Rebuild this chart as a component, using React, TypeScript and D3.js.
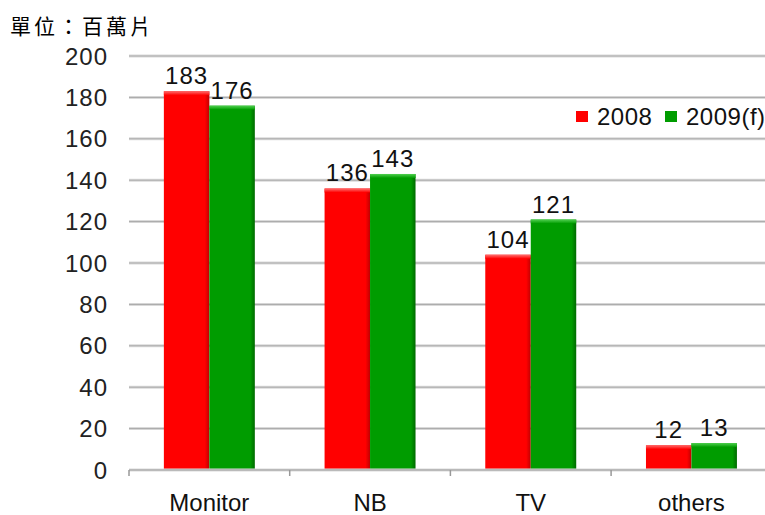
import React from "react";
import * as d3 from "d3";

const categories = ["Monitor", "NB", "TV", "others"];
const seriesNames = ["2008", "2009(f)"];
const values2008 = [183, 136, 104, 12];
const values2009 = [176, 143, 121, 13];
const yTicks = [0, 20, 40, 60, 80, 100, 120, 140, 160, 180, 200];
const unitLabel = "單位：百萬片";

const W = 765;
const H = 515;

export default function App() {
  const left = 129;
  const bandW = 160.7;
  const x0 = d3
    .scaleBand<string>()
    .domain(categories)
    .range([left, left + bandW * categories.length])
    .paddingInner(0)
    .paddingOuter(0);
  const bw = x0.bandwidth();
  const groupW = bw * 0.566;
  const x1 = d3
    .scaleBand<string>()
    .domain(seriesNames)
    .range([(bw - groupW) / 2, (bw + groupW) / 2])
    .padding(0);
  const y = d3.scaleLinear().domain([0, 200]).range([470, 56]);

  const series = [
    { name: seriesNames[0], vals: values2008, grad: "gRed", topGrad: "gRedTop", fill: "#ff0000" },
    { name: seriesNames[1], vals: values2009, grad: "gGreen", topGrad: "gGreenTop", fill: "#009c00" },
  ];

  const font = "'Liberation Sans', Arial, sans-serif";
  const fs = 24;
  const ls = 1;

  return (
    <div style={{ position: "fixed", left: 0, top: 0, width: W, height: H, background: "#fff" }}>
      <svg width={W} height={H} style={{ display: "block" }}>
        <defs>
          <linearGradient id="gRed" x1="0" x2="1" y1="0" y2="0">
            <stop offset="0" stopColor="#ff0000" />
            <stop offset="0.9" stopColor="#ff0000" />
            <stop offset="1" stopColor="#c00000" />
          </linearGradient>
          <linearGradient id="gGreen" x1="0" x2="1" y1="0" y2="0">
            <stop offset="0" stopColor="#009c00" />
            <stop offset="0.9" stopColor="#009c00" />
            <stop offset="1" stopColor="#006a00" />
          </linearGradient>
          <linearGradient id="gRedTop" x1="0" x2="0" y1="0" y2="1">
            <stop offset="0" stopColor="#ff7070" />
            <stop offset="1" stopColor="#ff0000" />
          </linearGradient>
          <linearGradient id="gGreenTop" x1="0" x2="0" y1="0" y2="1">
            <stop offset="0" stopColor="#50d050" />
            <stop offset="1" stopColor="#009c00" />
          </linearGradient>
        </defs>

        <text x={10} y={34} fontFamily="'Noto Sans CJK TC', sans-serif" fontSize={21} letterSpacing={3} fill="#000">
          {unitLabel}
        </text>

        {/* gridlines */}
        {yTicks.filter((t) => t > 0).map((t) => (
          <g key={"g" + t}>
            <line x1={left} x2={W} y1={y(t)} y2={y(t)} stroke="#dadada" strokeWidth={3} />
            <line x1={left} x2={W} y1={y(t)} y2={y(t)} stroke="#a8a8a8" strokeWidth={1} />
          </g>
        ))}

        {/* y labels */}
        {yTicks.map((t) => (
          <text key={"t" + t} x={108} y={y(t) + 8.5} textAnchor="end" fontFamily={font} fontSize={fs} letterSpacing={ls} fill="#222">
            {t}
          </text>
        ))}

        {/* bars */}
        {categories.map((c, i) => (
          <g key={c} transform={`translate(${x0(c)},0)`}>
            {series.map((s) => {
              const bx = x1(s.name)!;
              const w = x1.bandwidth();
              const top = y(s.vals[i]);
              const h = y(0) - top;
              return (
                <g key={s.name}>
                  <rect x={bx} y={top} width={w} height={h} fill={`url(#${s.grad})`} />
                  <rect x={bx} y={top} width={w} height={Math.min(4, h)} fill={`url(#${s.topGrad})`} />
                  <text
                    x={bx + w / 2}
                    y={top - 7}
                    textAnchor="middle"
                    fontFamily={font}
                    fontSize={fs}
                    letterSpacing={ls}
                    fill="#111"
                  >
                    {s.vals[i]}
                  </text>
                </g>
              );
            })}
          </g>
        ))}

        {/* x axis */}
        <line x1={left} x2={W} y1={y(0)} y2={y(0)} stroke="#dadada" strokeWidth={3} />
        <line x1={left} x2={W} y1={y(0)} y2={y(0)} stroke="#999" strokeWidth={1} />
        {categories.map((c) => (
          <line key={"tk" + c} x1={x0(c)!} x2={x0(c)!} y1={y(0)} y2={y(0) + 6} stroke="#999" strokeWidth={1.5} />
        ))}
        {categories.map((c) => (
          <text
            key={"xl" + c}
            x={x0(c)! + bw / 2}
            y={511}
            textAnchor="middle"
            fontFamily={font}
            fontSize={fs}
            fill="#111"
          >
            {c}
          </text>
        ))}

        {/* legend */}
        {series.map((s, k) => {
          const lx = k === 0 ? 576 : 665;
          return (
            <g key={"lg" + s.name}>
              <rect x={lx} y={111} width={12} height={11} fill={s.fill} />
              <text x={lx + 21} y={125} fontFamily={font} fontSize={fs} letterSpacing={0.5} fill="#111">
                {s.name}
              </text>
            </g>
          );
        })}
      </svg>
    </div>
  );
}
